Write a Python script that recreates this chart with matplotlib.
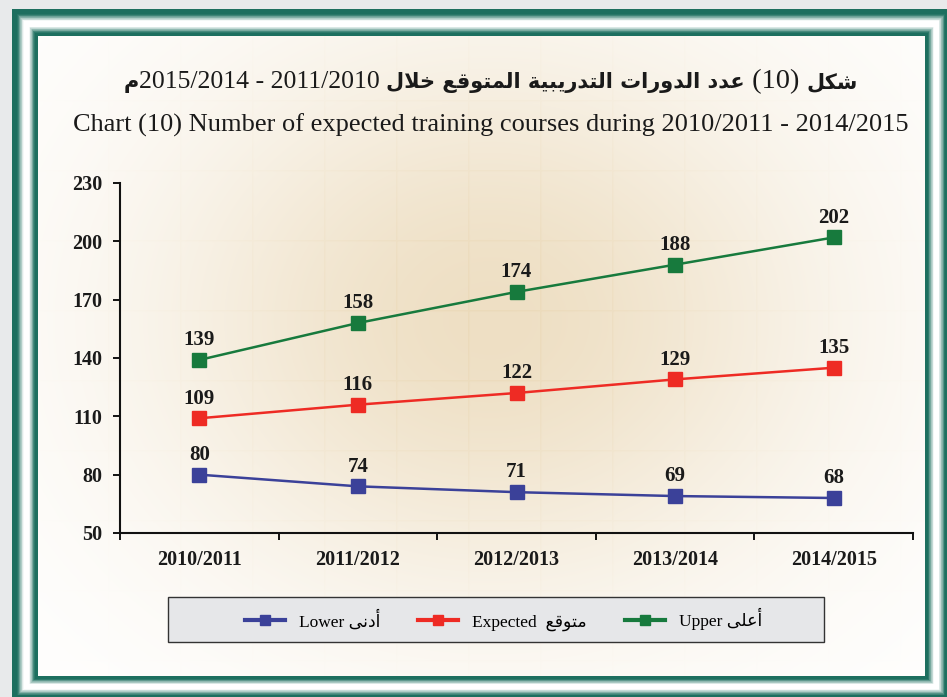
import numpy as np
import matplotlib.pyplot as plt
from matplotlib.patches import Rectangle
from matplotlib.lines import Line2D

# ---------------------------------------------------------------------
# data
# ---------------------------------------------------------------------
years = ['2010/2011', '2011/2012', '2012/2013', '2013/2014', '2014/2015']
lower = [80, 74, 71, 69, 68]
expected = [109, 116, 122, 129, 135]
upper = [139, 158, 174, 188, 202]
y_ticks = [50, 80, 110, 140, 170, 200, 230]

title_en = 'Chart (10) Number of expected training courses during 2010/2011 - 2014/2015'
series_names = [('Lower', 'أدنى'), ('Expected ', 'متوقع'), ('Upper', 'أعلى')]
colors = ['#3b4199', '#ee2b24', '#177a3d']

# ---------------------------------------------------------------------
# tiny arabic shaper (matplotlib does no shaping / bidi)
# ---------------------------------------------------------------------
FORMS = {
    'ا': (0xFE8D, 0xFE8E), 'أ': (0xFE83, 0xFE84), 'د': (0xFEA9, 0xFEAA),
    'ر': (0xFEAD, 0xFEAE), 'و': (0xFEED, 0xFEEE), 'ة': (0xFE93, 0xFE94),
    'ى': (0xFEEF, 0xFEF0),
    'ب': (0xFE8F, 0xFE90, 0xFE91, 0xFE92), 'ت': (0xFE95, 0xFE96, 0xFE97, 0xFE98),
    'خ': (0xFEA5, 0xFEA6, 0xFEA7, 0xFEA8), 'ش': (0xFEB5, 0xFEB6, 0xFEB7, 0xFEB8),
    'ع': (0xFEC9, 0xFECA, 0xFECB, 0xFECC), 'ق': (0xFED5, 0xFED6, 0xFED7, 0xFED8),
    'ك': (0xFED9, 0xFEDA, 0xFEDB, 0xFEDC), 'ل': (0xFEDD, 0xFEDE, 0xFEDF, 0xFEE0),
    'م': (0xFEE1, 0xFEE2, 0xFEE3, 0xFEE4), 'ن': (0xFEE5, 0xFEE6, 0xFEE7, 0xFEE8),
    'ي': (0xFEF1, 0xFEF2, 0xFEF3, 0xFEF4),
    'لا': (0xFEFB, 0xFEFC), 'لأ': (0xFEF7, 0xFEF8),
}


def shape(text):
    # logical arabic -> shaped glyphs in visual (left to right) order
    toks = []
    i = 0
    while i < len(text):
        if text[i] == 'ل' and i + 1 < len(text) and text[i + 1] in 'اأ':
            toks.append(text[i:i + 2])
            i += 2
        else:
            toks.append(text[i])
            i += 1
    out = []
    for k, t in enumerate(toks):
        if t not in FORMS:
            out.append(t)
            continue
        prev = k > 0 and toks[k - 1] in FORMS and len(FORMS[toks[k - 1]]) == 4
        nxt = len(FORMS[t]) == 4 and k + 1 < len(toks) and toks[k + 1] in FORMS
        f = FORMS[t]
        if prev and nxt:
            c = f[3]
        elif prev:
            c = f[1]
        elif nxt:
            c = f[2]
        else:
            c = f[0]
        out.append(chr(c))
    return ''.join(out)[::-1]


# ---------------------------------------------------------------------
# figure + decorative background (pixel coords)
# ---------------------------------------------------------------------
W, H = 947, 697
fig = plt.figure(figsize=(W / 100, H / 100), dpi=100, facecolor='#e8eaeb')
bg = fig.add_axes([0, 0, 1, 1], zorder=-10)
bg.set_xlim(0, W)
bg.set_ylim(H, 0)
bg.axis('off')

outer = np.array([12, 9, 950, 700])
inner = np.array([38, 36, 925, 676])
teal = np.array([0x1d, 0x6f, 0x5f]) / 255.
white = np.array([1.0, 1.0, 1.0])


def bevel(t):
    if t < 0.2:
        return 0.0
    if t < 0.45:
        return (t - 0.2) / 0.25
    if t < 0.65:
        return 1.0
    if t < 0.88:
        return 1 - (t - 0.65) / 0.23
    return 0.0


N = 40
for k in range(N):
    t = k / N
    x0, y0, x1, y1 = outer + (inner - outer) * t
    a = bevel(t + 0.5 / N)
    col = teal * (1 - a) + white * a
    bg.add_patch(Rectangle((x0, y0), x1 - x0, y1 - y0, facecolor=col, edgecolor='none'))

# glow + faint grid on inner panel
xx, yy = np.meshgrid(np.arange(inner[0], inner[2]), np.arange(inner[1], inner[3]))
r2 = ((xx - 490) / 400.) ** 2 + ((yy - 320) / 330.) ** 2
g = np.exp(-r2 * 1.4)
gx = np.exp(-((xx - 180) % 72.) ** 2 / 1.5) + np.exp(-((yy - 240) % 70.) ** 2 / 1.5)
tan = np.array([228, 204, 160]) / 255.
amt = 0.62 * g + 0.10 * g * np.clip(gx, 0, 1)
img = white[None, None, :] * (1 - amt[..., None]) + tan[None, None, :] * amt[..., None]
bg.imshow(img, extent=(inner[0], inner[2], inner[3], inner[1]), aspect='auto',
          interpolation='bilinear', zorder=2)
bg.set_xlim(0, W)
bg.set_ylim(H, 0)

# ---------------------------------------------------------------------
# titles
# ---------------------------------------------------------------------
renderer = fig.canvas.get_renderer()
ar_fam = ['DejaVu Sans']
sr_fam = ['Liberation Serif', 'DejaVu Sans']
pieces = [
    (shape('م'), ar_fam, 'bold', 15),
    ('2015/2014 - 2011/2010 ', sr_fam, 'normal', 18.5),
    (shape('عدد الدورات التدريبية المتوقع خلال'), ar_fam, 'bold', 15),
    (' (10) ', sr_fam, 'normal', 20.5),
    (shape('شكل'), ar_fam, 'bold', 15),
]
objs = []
widths = []
for s, fam, wt, fs in pieces:
    t = bg.text(0, 88, s, family=fam, fontweight=wt, fontsize=fs, ha='left',
                va='baseline', color='#1a1a1a', zorder=5)
    objs.append(t)
    widths.append(t.get_window_extent(renderer).width)
x = 491 - sum(widths) / 2
for t, w in zip(objs, widths):
    t.set_x(x)
    x += w

bg.text(491, 132, title_en, family=sr_fam, fontsize=19, ha='center', va='baseline',
        color='#1a1a1a', zorder=5)

# ---------------------------------------------------------------------
# main chart
# ---------------------------------------------------------------------
ax = fig.add_axes([120 / W, 1 - 533 / H, 793 / W, 350 / H])
ax.patch.set_alpha(0)
xpos = np.arange(len(years))
for vals, c in zip([lower, expected, upper], colors):
    ax.plot(xpos, vals, color=c, lw=1.8, marker='s', markersize=10, zorder=3)
    for xi, v in zip(xpos, vals):
        ax.annotate(str(v), (xi, v), xytext=(0, 7), textcoords='offset points',
                    ha='center', va='bottom', fontsize=15, fontweight='bold',
                    family=sr_fam, color='#1a1a1a')

ax.set_xlim(-0.5, len(years) - 0.5)
ax.set_ylim(50, 230)
ax.set_yticks(y_ticks)
ax.set_xticks(xpos)
ax.set_xticklabels(years)
ax.set_xticks(np.arange(-0.5, len(years)), minor=True)
for lab in ax.get_xticklabels() + ax.get_yticklabels():
    lab.set_fontweight('bold')
    lab.set_family(sr_fam)
    lab.set_fontsize(14.5)
    lab.set_color('#1a1a1a')
ax.tick_params(axis='y', length=5, width=1.3, pad=8)
ax.tick_params(axis='x', which='major', length=0, pad=12)
ax.tick_params(axis='x', which='minor', length=5, width=1.3)
for side in ['top', 'right']:
    ax.spines[side].set_visible(False)
for side in ['left', 'bottom']:
    ax.spines[side].set_linewidth(1.5)
    ax.spines[side].set_color('#111111')

# ---------------------------------------------------------------------
# legend
# ---------------------------------------------------------------------
bg.add_patch(Rectangle((168, 597), 656, 45, facecolor='#e6e7e9', edgecolor='#333333',
                       lw=1.0, zorder=4))
handles = [Line2D([], [], color=c, lw=3, marker='s', markersize=7) for c in colors]
labels = [en + ' ' + shape(ar) for en, ar in series_names]
fig.legend(handles, labels, ncol=3, mode='expand', loc='center',
           bbox_to_anchor=(245 / W, 1 - 642 / H, (762 - 245) / W, 45 / H),
           frameon=False, prop={'family': sr_fam, 'size': 12.5},
           handlelength=2.3, handletextpad=0.8, borderpad=0, borderaxespad=0)

plt.savefig('out.png', dpi=100)
